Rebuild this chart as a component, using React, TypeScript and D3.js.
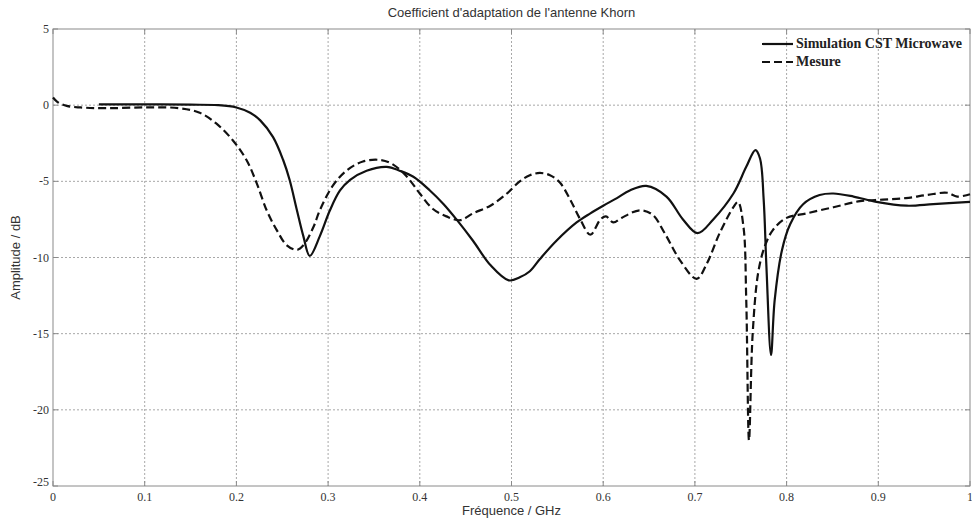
import React from "react";
import * as d3 from "d3";

const title = "Coefficient d'adaptation de l'antenne Khorn";
const xLabel = "Fréquence / GHz";
const yLabel = "Amplitude / dB";
const xTicks = [0, 0.1, 0.2, 0.3, 0.4, 0.5, 0.6, 0.7, 0.8, 0.9, 1];
const yTicks = [5, 0, -5, -10, -15, -20, -25];
const seriesNames = ["Simulation CST Microwave", "Mesure"];

const simFreq = [0.05, 0.1, 0.15, 0.18, 0.2, 0.215, 0.226, 0.24, 0.251, 0.258, 0.266, 0.273, 0.28, 0.291, 0.302, 0.313, 0.324, 0.342, 0.364, 0.378, 0.393, 0.411, 0.426, 0.44, 0.458, 0.477, 0.497, 0.509, 0.52, 0.531, 0.549, 0.571, 0.586, 0.6, 0.615, 0.629, 0.647, 0.669, 0.687, 0.703, 0.72, 0.742, 0.756, 0.766, 0.771, 0.775, 0.778, 0.783, 0.787, 0.795, 0.804, 0.818, 0.836, 0.851, 0.873, 0.898, 0.931, 0.96, 1.0];
const simDb = [0.05, 0.05, 0.03, 0.0, -0.15, -0.5, -1.0, -2.1, -3.6, -4.9, -6.9, -8.6, -9.9, -8.6, -6.9, -5.6, -4.9, -4.3, -4.05, -4.3, -4.7, -5.6, -6.5, -7.5, -8.9, -10.5, -11.5, -11.3, -10.9, -10.1, -8.9, -7.7, -7.1, -6.6, -6.1, -5.6, -5.3, -6.0, -7.5, -8.4, -7.5, -5.8, -4.05, -2.95, -3.5, -6.2, -10.6, -16.4, -12.8, -9.5, -7.8, -6.5, -5.9, -5.8, -6.0, -6.35, -6.6, -6.5, -6.35];

const mesFreq = [0.0, 0.005, 0.015, 0.03, 0.06, 0.1, 0.138, 0.16, 0.178, 0.196, 0.211, 0.222, 0.233, 0.244, 0.255, 0.266, 0.273, 0.284, 0.291, 0.305, 0.32, 0.338, 0.357, 0.371, 0.386, 0.4, 0.414, 0.429, 0.444, 0.458, 0.477, 0.495, 0.509, 0.52, 0.531, 0.542, 0.553, 0.564, 0.575, 0.586, 0.597, 0.603, 0.611, 0.62, 0.64, 0.654, 0.667, 0.684, 0.702, 0.713, 0.727, 0.742, 0.747, 0.753, 0.756, 0.759, 0.763, 0.769, 0.776, 0.785, 0.8, 0.822, 0.851, 0.88, 0.905, 0.93, 0.953, 0.975, 0.986, 1.0];
const mesDb = [0.5, 0.2, -0.05, -0.15, -0.2, -0.15, -0.2, -0.5, -1.2, -2.3, -3.6, -5.1, -6.9, -8.2, -9.2, -9.5, -9.2, -8.0, -6.9, -5.3, -4.3, -3.7, -3.6, -3.9, -4.7, -5.8, -6.8, -7.3, -7.55, -7.1, -6.6, -5.8, -5.0, -4.6, -4.45, -4.6, -5.1, -6.2, -7.5, -8.5, -7.5, -7.3, -7.7, -7.4, -6.9, -7.2, -8.4, -10.2, -11.4, -10.4, -8.4, -6.7, -6.35, -8.0, -12.8, -22.0, -15.0, -11.0, -9.3, -8.2, -7.4, -7.1, -6.7, -6.3, -6.2, -6.1, -5.9, -5.75, -6.0, -5.85];

const W = 972;
const H = 522;
const L = 53, R = 970, T = 29, B = 486;

export default function App() {
  const x = d3.scaleLinear().domain([0, 1]).range([L, R]);
  const y = d3.scaleLinear().domain([-25, 5]).range([B, T]);
  const line = d3
    .line<[number, number]>()
    .x((d) => x(d[0]))
    .y((d) => y(d[1]))
    .curve(d3.curveCatmullRom.alpha(0.5));
  const sim: [number, number][] = simFreq.map((f, i) => [f, simDb[i]]);
  const mes: [number, number][] = mesFreq.map((f, i) => [f, mesDb[i]]);
  const gridColor = "#a8a8a8";
  const axisColor = "#8a8a8a";
  const serif = "'Liberation Serif', 'DejaVu Serif', serif";
  const sans = "'Liberation Sans', Arial, sans-serif";
  return (
    <svg
      width={W}
      height={H}
      style={{ position: "absolute", left: 0, top: 0, background: "#fff" }}
    >
      <rect x={0} y={0} width={W} height={H} fill="#fff" />
      {xTicks.slice(1, -1).map((t) => (
        <line key={"gx" + t} x1={x(t)} x2={x(t)} y1={T} y2={B} stroke={gridColor} strokeDasharray="2,2" strokeWidth={1} />
      ))}
      {yTicks.slice(1, -1).map((t) => (
        <line key={"gy" + t} x1={L} x2={R} y1={y(t)} y2={y(t)} stroke={gridColor} strokeDasharray="2,2" strokeWidth={1} />
      ))}
      {xTicks.map((t) => (
        <g key={"tx" + t}>
          <line x1={x(t)} x2={x(t)} y1={B} y2={B - 5} stroke={axisColor} />
          <line x1={x(t)} x2={x(t)} y1={T} y2={T + 5} stroke={axisColor} />
          <text x={x(t)} y={501} textAnchor="middle" fontFamily={serif} fontSize={12} fill="#333">
            {String(t)}
          </text>
        </g>
      ))}
      {yTicks.map((t) => (
        <g key={"ty" + t}>
          <line x1={L} x2={L + 5} y1={y(t)} y2={y(t)} stroke={axisColor} />
          <line x1={R} x2={R - 5} y1={y(t)} y2={y(t)} stroke={axisColor} />
          <text x={49} y={y(t) + (t === -25 ? 0 : 4)} textAnchor="end" fontFamily={serif} fontSize={12} fill="#333">
            {String(t)}
          </text>
        </g>
      ))}
      <rect x={L} y={T} width={R - L} height={B - T} fill="none" stroke={axisColor} strokeWidth={1} />
      <path d={line(mes) || ""} fill="none" stroke="#111" strokeWidth={2.2} strokeDasharray="8,4" />
      <path d={line(sim) || ""} fill="none" stroke="#111" strokeWidth={2.2} />
      <text x={(L + R) / 2} y={17} textAnchor="middle" fontFamily={sans} fontSize={13} fill="#333">
        {title}
      </text>
      <text x={(L + R) / 2} y={515} textAnchor="middle" fontFamily={sans} fontSize={13} fill="#333">
        {xLabel}
      </text>
      <text transform={`translate(20,${(T + B) / 2}) rotate(-90)`} textAnchor="middle" fontFamily={sans} fontSize={13} fill="#333">
        {yLabel}
      </text>
      <g>
        <line x1={762} x2={793} y1={44} y2={44} stroke="#111" strokeWidth={2.2} />
        <text x={796} y={48} fontFamily={serif} fontSize={14} fontWeight="bold" fill="#222">{seriesNames[0]}</text>
        <line x1={762} x2={793} y1={62} y2={62} stroke="#111" strokeWidth={2.2} strokeDasharray="8,4" />
        <text x={796} y={66} fontFamily={serif} fontSize={14} fontWeight="bold" fill="#222">{seriesNames[1]}</text>
      </g>
    </svg>
  );
}
